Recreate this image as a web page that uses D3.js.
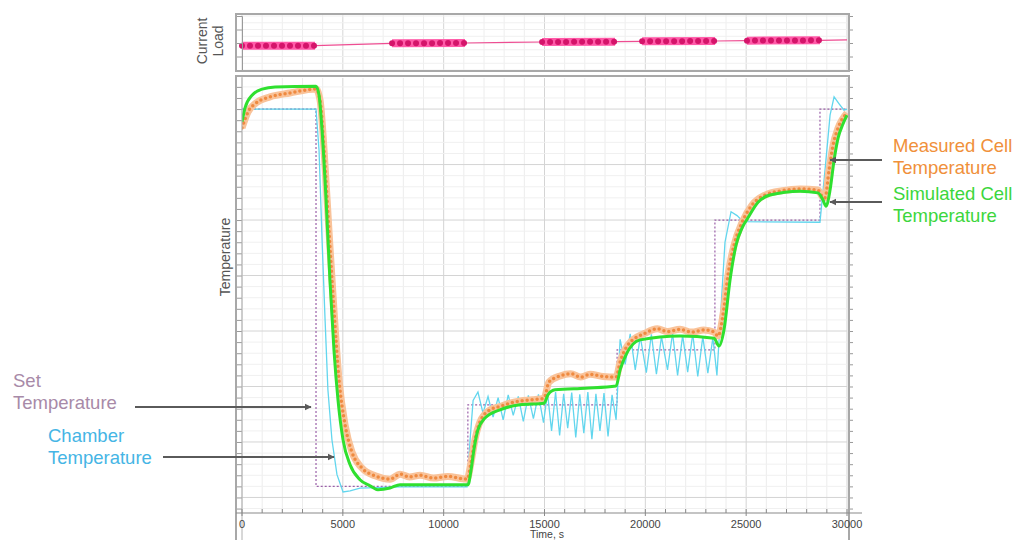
<!DOCTYPE html>
<html>
<head>
<meta charset="utf-8">
<script src="https://cdn.jsdelivr.net/npm/d3@7"></script>
<style>
  body { margin: 0; background: #fff; }
  svg { display: block; font-family: "Liberation Sans", Arial, sans-serif; }
</style>
</head>
<body>
<div id="chart"></div>
<script>
// time axis (seconds)
const timeTicks = [0, 5000, 10000, 15000, 20000, 25000, 30000];

// set temperature steps (step-after)
const setTimes  = [0, 3670, 11200, 18600, 23450, 28660, 30000];
const setValues = [50, -18, -3.3, 6.6, 30, 50, 50];

// chamber temperature
const chamberTimes = [0, 3670, 3820, 3970, 4120, 4260, 4460, 4710, 5010, 5360, 5850, 7840, 11160, 11310, 11460,
  11700, 11950, 12200, 12450, 12700, 12950, 13200, 13450, 13700, 13950, 14200, 14450, 14700, 14950, 15150, 15350,
  15550, 15750, 15950, 16150, 16350, 16550, 16750, 16950, 17150, 17350, 17550, 17750, 17950, 18150, 18350, 18550,
  18750, 19000, 19250, 19500, 19750, 20050, 20300, 20550, 20800, 21100, 21350, 21600, 21850, 22100, 22350, 22600,
  22850, 23100, 23350, 23550, 23750, 23950, 24250, 24550, 24850, 28660, 28910, 29160, 29360, 29600, 29850, 30000];
const chamberValues = [50, 50, 42.6, 26.4, 12, -0.6, -9.6, -15.9, -19.0, -18.8, -18.3, -18.1, -18.1, -9.6, -2.5,
  -1.0, -4.8, -1.8, -5.5, -2.0, -6.0, -1.5, -5.2, -1.8, -6.3, -1.6, -5.8, -1.4, -6.5, -1.2, -8.0,
  -1.0, -8.8, -1.3, -7.5, -1.1, -9.2, -1.4, -8.4, -1.0, -9.5, -1.3, -8.0, -1.2, -9.0, -1.5, -6.0,
  8.5, 4.0, 9.5, 3.0, 9.0, 2.5, 9.4, 2.2, 9.0, 3.0, 9.6, 2.0, 9.2, 2.6, 9.5, 1.8,
  9.0, 2.4, 8.8, 2.0, 14, 26, 31.5, 30.8, 29.7, 29.6, 39, 48.9, 52.2, 51, 49.8, 50];

// measured cell temperature
const measuredTimes = [0, 300, 700, 1390, 2380, 3670, 3870, 4070, 4310, 4560, 4810, 5110, 5450, 5950, 6600, 7340,
  7840, 8300, 8830, 9500, 10200, 11160, 11360, 11550, 11800, 12300, 12800, 13290, 13800, 14400, 14980, 15220, 15770,
  16300, 16800, 17260, 17900, 18550, 18750, 19140, 19980, 20600, 21100, 21720, 22300, 22900, 23410, 23610, 23850,
  24100, 24400, 24800, 25290, 25940, 26800, 27670, 28560, 28760, 28910, 29110, 29310, 29560, 30000];
const measuredValues = [46.6, 49.5, 51.1, 52.2, 52.9, 53.6, 51.6, 42.6, 28.2, 13.8, 1.2, -6.9, -11.8, -14.7, -16.1, -16.7,
  -15.8, -16.3, -16.0, -16.5, -16.2, -16.7, -13.6, -9.6, -6.4, -4.2, -3.6, -3.0, -2.6, -2.4, -2.1, 0.8, 1.9,
  2.3, 1.7, 2.2, 1.8, 1.7, 4.4, 7.5, 9.6, 10.4, 9.9, 10.3, 9.8, 10.2, 9.8, 9.1, 12.9,
  20.1, 25.5, 29.6, 32.7, 34.5, 35.3, 35.6, 35.4, 34.3, 34.0, 39.0, 43.5, 46.6, 49.3];

// simulated cell temperature
const simulatedTimes = [0, 150, 500, 1000, 1640, 3670, 3820, 3970, 4170, 4360, 4560, 4760, 5010, 5360, 5850, 6350,
  6740, 7340, 7840, 9320, 11210, 11360, 11500, 11700, 12050, 12790, 13790, 14980, 15170, 15520, 17010, 18550, 18750,
  19040, 19740, 21720, 23410, 23650, 23900, 24200, 24500, 24800, 25090, 25590, 26180, 27670, 28560, 28810, 28960,
  29160, 29360, 29560, 29800, 30000];
const simulatedValues = [47.7, 50.2, 52.5, 53.6, 54.0, 54.1, 52.5, 46.2, 33.6, 19.2, 6.6, -2.4, -9.6, -14.1, -16.8, -17.9,
  -18.6, -18.3, -17.7, -17.7, -17.7, -15.0, -11.4, -7.8, -5.7, -4.2, -3.3, -3.0, -1.5, -0.6, -0.3, 0.1, 3.0,
  5.7, 8.4, 9.1, 8.7, 7.3, 10.2, 19.2, 25.5, 28.6, 30.4, 33.2, 34.5, 35.2, 34.9, 33.6, 32.5,
  35.4, 40.8, 44.8, 47.3, 48.9];

// current load trace and load periods
const loadTimes  = [0, 3620, 7440, 11060, 14880, 18500, 19840, 23460, 25040, 28660, 30000];
const loadValues = [-0.4, -0.4, -0.05, 0.0, 0.15, 0.2, 0.25, 0.3, 0.35, 0.4, 0.45];
const loadStart  = [0, 7440, 14880, 19840, 25040];
const loadEnd    = [3620, 11060, 18500, 23460, 28660];

let width = 1021, height = 540;

let svg = d3.select("#chart").append("svg")
    .attr("width", width)
    .attr("height", height);

svg.append("rect").attr("width", width).attr("height", height).attr("fill", "#fff");

let x = d3.scaleLinear().domain([0, 30000]).range([242, 847]);
let y = d3.scaleLinear().domain([-22.8, 55.6]).range([513, 78]);
let yLoad = d3.scaleLinear().domain([-4, 4]).range([70, 16]);

let minorT = d3.range(0, 30001, 1000);
let majorT = timeTicks;

// ---------- top panel (current load) ----------
let loadPanel = svg.append("g");

loadPanel.selectAll(".vgrid").data(minorT).enter().append("line")
    .attr("x1", d => x(d)).attr("x2", d => x(d))
    .attr("y1", 15).attr("y2", 70)
    .attr("stroke", d => d % 5000 === 0 ? "#d6d6d6" : "#eeeeee");
loadPanel.selectAll(".hgrid").data(d3.range(-4, 4.01, 1)).enter().append("line")
    .attr("x1", 242).attr("x2", 847)
    .attr("y1", d => yLoad(d)).attr("y2", d => yLoad(d))
    .attr("stroke", "#f0f0f0");

let loadLine = d3.line().x((d, i) => x(loadTimes[i])).y(d => yLoad(d));
loadPanel.append("path").datum(loadValues)
    .attr("d", loadLine)
    .attr("fill", "none").attr("stroke", "#ee4d92").attr("stroke-width", 1.2);

let loadAt = d3.scaleLinear().domain(loadTimes).range(loadValues);
loadStart.forEach(function(s, i) {
    let seg = [[s, loadAt(s)], [loadEnd[i], loadAt(loadEnd[i])]];
    let l = d3.line().x(d => x(d[0])).y(d => yLoad(d[1]));
    loadPanel.append("path").attr("d", l(seg))
        .attr("stroke", "#ff5aa8").attr("stroke-width", 8).attr("fill", "none");
    loadPanel.append("path").attr("d", l(seg))
        .attr("stroke", "#d4146a").attr("stroke-width", 6).attr("fill", "none")
        .attr("stroke-linecap", "round").attr("stroke-dasharray", "0 8");
});

loadPanel.append("g").attr("transform", "translate(242,0)")
    .call(d3.axisLeft(yLoad).ticks(5).tickSize(6).tickFormat(""))
    .call(g => g.selectAll("line,path").attr("stroke", "#9a9a9a"));
loadPanel.append("g").attr("transform", "translate(848,0)")
    .call(d3.axisRight(yLoad).ticks(5).tickSize(5).tickFormat(""))
    .call(g => g.selectAll("line,path").attr("stroke", "#9a9a9a"));
loadPanel.append("rect").attr("x", 236).attr("y", 14).attr("width", 613).attr("height", 57)
    .attr("fill", "none").attr("stroke", "#a8a8a8").attr("stroke-width", 2);

loadPanel.append("text").attr("transform", "translate(207,41) rotate(-90)")
    .attr("text-anchor", "middle").attr("font-size", 14).attr("fill", "#555").text("Current");
loadPanel.append("text").attr("transform", "translate(223,41) rotate(-90)")
    .attr("text-anchor", "middle").attr("font-size", 14).attr("fill", "#555").text("Load");

// ---------- main panel (temperature) ----------
let main = svg.append("g");

main.selectAll(".vgrid").data(minorT).enter().append("line")
    .attr("x1", d => x(d)).attr("x2", d => x(d))
    .attr("y1", 78).attr("y2", 513)
    .attr("stroke", d => d % 5000 === 0 ? "#d4d4d4" : "#ececec");
main.selectAll(".hgrid").data(d3.range(-22, 56, 2)).enter().append("line")
    .attr("x1", 242).attr("x2", 847)
    .attr("y1", d => y(d)).attr("y2", d => y(d))
    .attr("stroke", d => d % 10 === 0 ? "#d4d4d4" : "#f0f0f0");

svg.append("clipPath").attr("id", "plotclip").append("rect")
    .attr("x", 242).attr("y", 78).attr("width", 606).attr("height", 435);

let series = main.append("g").attr("clip-path", "url(#plotclip)");

series.append("path").datum(setValues)
    .attr("d", d3.line().x((d, i) => x(setTimes[i])).y(d => y(d)).curve(d3.curveStepAfter))
    .attr("fill", "none").attr("stroke", "#9a5fa8").attr("stroke-width", 1.2)
    .attr("stroke-dasharray", "2 2");

series.append("path").datum(chamberValues)
    .attr("d", d3.line().x((d, i) => x(chamberTimes[i])).y(d => y(d)))
    .attr("fill", "none").attr("stroke", "#62d6ee").attr("stroke-width", 1.3);

let measuredLine = d3.line().x((d, i) => x(measuredTimes[i])).y(d => y(d)).curve(d3.curveMonotoneX);
series.append("path").datum(measuredValues)
    .attr("d", measuredLine)
    .attr("fill", "none").attr("stroke", "#f9c39a").attr("stroke-width", 7);
series.append("path").datum(measuredValues)
    .attr("d", measuredLine)
    .attr("fill", "none").attr("stroke", "#ef8a40").attr("stroke-width", 3.5)
    .attr("stroke-linecap", "round").attr("stroke-dasharray", "0 5");

series.append("path").datum(simulatedValues)
    .attr("d", d3.line().x((d, i) => x(simulatedTimes[i])).y(d => y(d)).curve(d3.curveMonotoneX))
    .attr("fill", "none").attr("stroke", "#2fe02f").attr("stroke-width", 3);

// axes
main.append("g").attr("transform", "translate(242,0)")
    .call(d3.axisLeft(y).ticks(40).tickSize(6).tickFormat(""))
    .call(g => g.select("path").remove())
    .call(g => g.selectAll("line").attr("stroke", "#9a9a9a"));
main.append("g").attr("transform", "translate(848,0)")
    .call(d3.axisRight(y).ticks(40).tickSize(5).tickFormat(""))
    .call(g => g.select("path").remove())
    .call(g => g.selectAll("line").attr("stroke", "#9a9a9a"));
main.append("line").attr("x1", 242).attr("x2", 242).attr("y1", 76).attr("y2", 540)
    .attr("stroke", "#b0b0b0");
main.append("path").attr("d", "M236,540V76H849V540")
    .attr("fill", "none").attr("stroke", "#a8a8a8").attr("stroke-width", 2);

let xAxis = main.append("g").attr("transform", "translate(0,513)");
xAxis.append("line").attr("x1", 236).attr("x2", 862).attr("stroke", "#8a8a8a").attr("stroke-width", 1.2);
xAxis.selectAll(".tk").data(minorT).enter().append("line")
    .attr("x1", d => x(d)).attr("x2", d => x(d))
    .attr("y1", -4).attr("y2", d => d % 5000 === 0 ? 3 : 0)
    .attr("stroke", "#8a8a8a");
xAxis.selectAll(".lbl").data(majorT).enter().append("text")
    .attr("x", d => x(d)).attr("y", 14.5)
    .attr("text-anchor", "middle").attr("font-size", 11).attr("fill", "#444")
    .text(d => d);
main.append("text").attr("x", 547).attr("y", 538)
    .attr("text-anchor", "middle").attr("font-size", 10.5).attr("fill", "#444").text("Time, s");

main.append("text").attr("transform", "translate(230,257) rotate(-90)")
    .attr("text-anchor", "middle").attr("font-size", 14).attr("fill", "#555").text("Temperature");

// ---------- annotations ----------
let defs = svg.append("defs");
defs.append("marker").attr("id", "arrow")
    .attr("viewBox", "0 0 10 10").attr("refX", 9).attr("refY", 5)
    .attr("markerWidth", 4).attr("markerHeight", 4).attr("orient", "auto")
    .append("path").attr("d", "M0,0L10,5L0,10z").attr("fill", "#5a5a5a");

let arrows = [[135, 407, 311, 407], [163, 457, 334, 457], [882, 160, 830, 160], [882, 202, 830, 202]];
svg.selectAll(".arrow").data(arrows).enter().append("line")
    .attr("x1", d => d[0]).attr("y1", d => d[1]).attr("x2", d => d[2]).attr("y2", d => d[3])
    .attr("stroke", "#5a5a5a").attr("stroke-width", 1.8).attr("marker-end", "url(#arrow)");

let labels = [
    {t: "Set", x: 13, y: 387, c: "#a88aa8"},
    {t: "Temperature", x: 13, y: 409, c: "#a88aa8"},
    {t: "Chamber", x: 48, y: 442, c: "#45b5e5"},
    {t: "Temperature", x: 48, y: 464, c: "#45b5e5"},
    {t: "Measured Cell", x: 893, y: 152, c: "#f0903a"},
    {t: "Temperature", x: 893, y: 174, c: "#f0903a"},
    {t: "Simulated Cell", x: 893, y: 200, c: "#3cd63c"},
    {t: "Temperature", x: 893, y: 222, c: "#3cd63c"}
];
svg.selectAll(".ann").data(labels).enter().append("text")
    .attr("x", d => d.x).attr("y", d => d.y)
    .attr("font-size", 18.5).attr("fill", d => d.c)
    .text(d => d.t);
</script>
</body>
</html>
